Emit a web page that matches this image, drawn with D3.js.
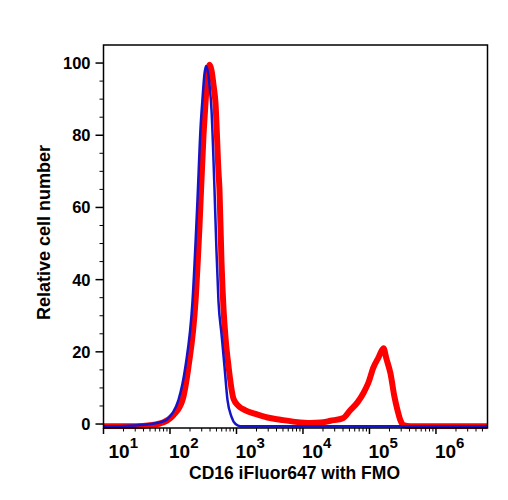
<!DOCTYPE html>
<html>
<head>
<meta charset="utf-8">
<script src="https://cdn.jsdelivr.net/npm/d3@7"></script>
<style>
  body { margin: 0; background: #fff; }
  svg { display: block; font-family: "Liberation Sans", Arial, Helvetica, sans-serif; font-weight: bold; }
</style>
</head>
<body>
<svg id="chart" width="508" height="500"></svg>
<script>
// ---- data ----
const fmoX = [10, 18, 36, 51, 72, 89, 109, 134, 171, 218, 259, 288, 308, 330, 348, 367, 393, 421, 467, 500, 536, 595, 660, 733, 842, 967, 1148, 10000, 100000, 1000000, 5960000];
const fmoY = [-0.6, -0.6, -0.3, 0, 0.5, 1.2, 3, 6.6, 16, 34, 62, 82, 90, 97, 99.2, 98, 94, 87, 65, 48, 34, 25, 16, 6.6, 2, 0, -0.6, -0.6, -0.6, -0.6, -0.6];

const stainX = [10, 30, 51, 80, 113, 154, 190, 242, 278, 319, 342, 367, 393, 421, 451, 483, 536, 555, 595, 638, 684, 759, 902, 1072, 1365, 1931, 2924, 4592, 7713, 12970, 18320, 25930, 40640, 51760, 66070, 81280, 96600, 114800, 136500, 162500, 180300, 207000, 237700, 263600, 292400, 324300, 413800, 1000000, 5960000];
const stainY = [-0.6, -0.6, -0.3, 0.5, 2.5, 6.6, 16, 34, 55, 80, 89, 96, 99.5, 98, 94, 89, 70, 65, 45, 32, 24, 16, 7, 5, 3.8, 2.8, 1.8, 1.2, 0.6, 0.3, 0.4, 0.9, 1.7, 3.9, 6, 8.6, 11.5, 15.7, 18.4, 21, 18, 14, 7.5, 3.9, 1, -0.3, -0.6, -0.6, -0.6];

const yTicks = [0, 20, 40, 60, 80, 100];
const xTickExps = [1, 2, 3, 4, 5, 6];
const xTitle = "CD16 iFluor647 with FMO";
const yTitle = "Relative cell number";

// ---- layout ----
const L = 103.5, R = 487.5, T = 45, B = 428;
const svg = d3.select("#chart");

const x = d3.scaleLog().domain([10, 5960000]).range([L, R]);
const y = d3.scaleLinear().domain([-1.1, 105]).range([B, T]);

// curves
const line = d3.line().x(d => x(d[0])).y(d => y(d[1])).curve(d3.curveMonotoneX);
svg.append("clipPath").attr("id", "clip").append("rect")
  .attr("x", L).attr("y", T).attr("width", R - L).attr("height", B - T + 1);

const g = svg.append("g").attr("clip-path", "url(#clip)");
g.append("path").datum(d3.zip(stainX, stainY))
  .attr("d", line).attr("fill", "none").attr("stroke", "#ff0000")
  .attr("stroke-width", 6).attr("stroke-linejoin", "round");
g.append("path").datum(d3.zip(fmoX, fmoY))
  .attr("d", line).attr("fill", "none").attr("stroke", "#1414c8")
  .attr("stroke-width", 2.5).attr("stroke-linejoin", "round");

// frame
svg.append("rect").attr("x", L).attr("y", T).attr("width", R - L).attr("height", B - T)
  .attr("fill", "none").attr("stroke", "#000").attr("stroke-width", 1.5);

// y axis
const yMinor = d3.range(0, 101, 5).filter(v => v % 20 !== 0);
const yAx = svg.append("g");
yAx.selectAll("line.maj").data(yTicks).join("line")
  .attr("x1", L - 8).attr("x2", L).attr("y1", d => y(d)).attr("y2", d => y(d))
  .attr("stroke", "#000").attr("stroke-width", 1.5);
yAx.selectAll("line.min").data(yMinor).join("line")
  .attr("x1", L - 4).attr("x2", L).attr("y1", d => y(d)).attr("y2", d => y(d))
  .attr("stroke", "#000").attr("stroke-width", 1);
yAx.selectAll("text").data(yTicks).join("text")
  .attr("x", L - 13).attr("y", d => y(d)).attr("dy", "0.36em")
  .attr("text-anchor", "end").attr("font-size", 16.5).text(d => d);

// x axis
const xAx = svg.append("g");
const majors = xTickExps.map(e => Math.pow(10, e));
const minors = [];
for (let e = 0; e <= 6; e++) for (let k = 2; k <= 9; k++) {
  const v = k * Math.pow(10, e);
  if (v >= 10 && v <= 5960000) minors.push(v);
}
xAx.selectAll("line.maj").data(majors).join("line")
  .attr("x1", d => x(d)).attr("x2", d => x(d)).attr("y1", B).attr("y2", B + 6)
  .attr("stroke", "#000").attr("stroke-width", 1.5);
xAx.selectAll("line.min").data(minors).join("line")
  .attr("x1", d => x(d)).attr("x2", d => x(d)).attr("y1", B).attr("y2", B + 3.5)
  .attr("stroke", "#000").attr("stroke-width", 1);
const xt = xAx.selectAll("text").data(xTickExps).join("text")
  .attr("x", d => Math.max(x(Math.pow(10, d)) - 1, L + 5)).attr("y", 458)
  .attr("text-anchor", "start").attr("font-size", 19);
xt.append("tspan").text("10");
xt.append("tspan").attr("dy", -10).attr("font-size", 15).text(d => d);

// titles
svg.append("text").attr("x", 294.5).attr("y", 479).attr("text-anchor", "middle")
  .attr("font-size", 17.5).text(xTitle);
svg.append("text").attr("transform", "translate(50,232.5) rotate(-90)")
  .attr("text-anchor", "middle").attr("font-size", 18).text(yTitle);
</script>
</body>
</html>
